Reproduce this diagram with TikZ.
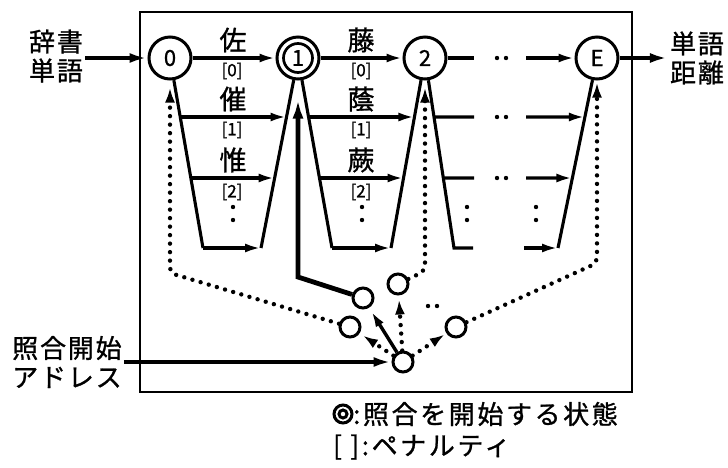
\documentclass[tikz,border=0pt]{standalone}
\usepackage{fontspec}
\setmainfont{Noto Sans CJK JP}[FakeBold=1]
\newfontfamily\jpS{Noto Sans CJK JP}[LetterSpace=7,FakeBold=1]
\newfontfamily\jpL{Noto Sans CJK JP}[LetterSpace=10,FakeBold=1]
\usetikzlibrary{arrows.meta,calc}
\begin{document}
\begin{tikzpicture}[x=1pt,y=-1pt,
  st/.style={circle,draw,line width=3pt,minimum size=42pt,inner sep=0pt,font=\fontsize{22}{22}\selectfont},
  sm/.style={circle,draw,line width=3pt,minimum size=20pt,inner sep=0pt},
  ln/.style={line width=3.1pt},
  arr/.style={line width=3.1pt,-{Latex[length=16pt,width=9pt]}},
  thk/.style={line width=3.8pt,-{Latex[length=18pt,width=10pt]}},
  dotl/.style={line width=4.4pt,line cap=round,dash pattern=on 0pt off 8.5pt},
  darr/.style={dotl,-{Latex[length=15pt,width=10pt]}},
  lab/.style={font=\fontsize{27}{27}\selectfont,inner sep=0pt},
  pen/.style={font=\fontsize{17}{17}\selectfont,inner sep=0pt},
  side/.style={font=\jpS\fontsize{26}{29}\selectfont,align=center,inner sep=2pt},
  leg/.style={font=\jpL\fontsize{26}{26}\selectfont,inner sep=0pt,anchor=west}]
\fill[white] (0,0) rectangle (728,467);
\useasboundingbox (0,0) rectangle (728,467);
% frame
\draw[line width=2.8pt] (140,12) rectangle (632,392);
% states
\node[st] (n0) at (170,58) {0};
\node[st] (n1) at (298,58) {};
\node[circle,draw,line width=2.7pt,minimum size=29pt,inner sep=0pt,font=\fontsize{22}{22}\selectfont] (n1i) at (n1) {1};
\node[st] (n2) at (425,58) {2};
\node[st] (nE) at (597,58) {E};
% outside texts
\node[side] (dict) at (56,56) {辞書\\単語};
\node[side] (out) at (697,58) {単語\\距離};
\node[side] (addr) at (67,362) {照合開始\\アドレス};
\draw[thk] (dict.east |- n0) -- (n0);
\draw[thk] (nE) -- (out.west |- nE);
% funnel corners
\coordinate (BL0) at (203,248);
\coordinate (BR0) at (261,248);
\coordinate (BL1) at (332,248);
\coordinate (BR1) at (391,248);
\coordinate (BL2) at (454,248);
\coordinate (B2e) at (473,248);
\coordinate (BEs) at (524,248);
\coordinate (BRE) at (558,248);
% funnels
\draw[ln] (n0) -- (BL0);
\draw[arr] (BL0) -- (BR0);
\draw[ln] (BR0) -- (n1);
\draw[ln] (n1) -- (BL1);
\draw[arr] (BL1) -- (BR1);
\draw[ln] (BR1) -- (n2);
\draw[ln] (n2) -- (BL2) -- (B2e);
\draw[arr] (BEs) -- (BRE);
\draw[ln] (BRE) -- (nE);
% top row
\draw[arr] (n0) -- (n1);
\draw[arr] (n1) -- (n2);
\coordinate (r1a) at (474,58);
\coordinate (r1b) at (526,58);
\draw[ln] (n2) -- (r1a);
\draw[arr] (r1b) -- (nE);
% rows 2 and 3
\foreach \f/\yy in {0.3105/117,0.6316/178}{
  \draw[arr] ($(n0)!\f!(BL0)$) -- ($(n1)!\f!(BR0)$);
  \draw[arr] ($(n1)!\f!(BL1)$) -- ($(n2)!\f!(BR1)$);
  \draw[ln] ($(n2)!\f!(BL2)$) -- (474,\yy);
  \draw[arr] (526,\yy) -- ($(nE)!\f!(BRE)$);
}
% dot pairs
\foreach \yy in {58,117,178}{
  \fill (497,\yy) circle (2.2pt) (506,\yy) circle (2.2pt);
}
\foreach \xx in {233,362,467,536}{
  \fill (\xx,207) circle (2.2pt) (\xx,220) circle (2.2pt);
}
% labels
\node[lab] (l1) at (233,40) {佐};
\node[pen] (p1) at (232,71) {[0]};
\node[lab] (l2) at (233,99) {催};
\node[pen] (p2) at (232,130) {[1]};
\node[lab] (l3) at (233,160) {惟};
\node[pen] (p3) at (232,192) {[2]};
\node[lab] (l4) at (361,40) {藤};
\node[pen] (p4) at (361,71) {[0]};
\node[lab] (l5) at (361,99) {蔭};
\node[pen] (p5) at (361,130) {[1]};
\node[lab] (l6) at (361,160) {蕨};
\node[pen] (p6) at (361,192) {[2]};
% start mechanism
\node[sm] (s) at (403,362) {};
\node[sm] (ca) at (363,298) {};
\node[sm] (cb) at (350,327) {};
\node[sm] (cc) at (398,284) {};
\node[sm] (cd) at (456,327) {};
\draw[thk] (addr.east) -- (s);
\draw[arr,line width=3.4pt,shorten >=4pt] (s) -- (ca);
\draw[darr,shorten >=4pt] (s) -- (cb);
\draw[darr,shorten >=4pt] (s) -- (cc);
\draw[darr,shorten >=2pt] (s) -- (cd);
\fill (428,306) circle (2.2pt) (437,306) circle (2.2pt);
\coordinate (k0) at (170,273);
\coordinate (ka) at (298,277);
\coordinate (k2) at (425,271);
\coordinate (kE) at (597,263);
\draw[line width=4.8pt,-{Latex[length=19pt,width=11pt]},shorten >=19pt] (ca) -- (ka) -- (n1);
\draw[darr,rounded corners=6pt,shorten >=7pt] (cb) -- (k0) -- (n0);
\draw[darr,rounded corners=6pt,shorten >=7pt] (cc) -- (k2) -- (n2);
\draw[darr,rounded corners=6pt,shorten >=2pt] (cd) -- (kE) -- (nE);
% legend
\node[circle,draw,line width=3pt,minimum size=18pt,inner sep=0pt] (lg) at (343,414) {};
\node[circle,draw,line width=3pt,minimum size=8pt,inner sep=0pt] (lgi) at (lg) {};
\node[leg] (lt1) at (353,414) {:照合を開始する状態};
\node[leg] (lt2) at (333,447) {[ ]:ペナルティ};
\end{tikzpicture}
\end{document}
